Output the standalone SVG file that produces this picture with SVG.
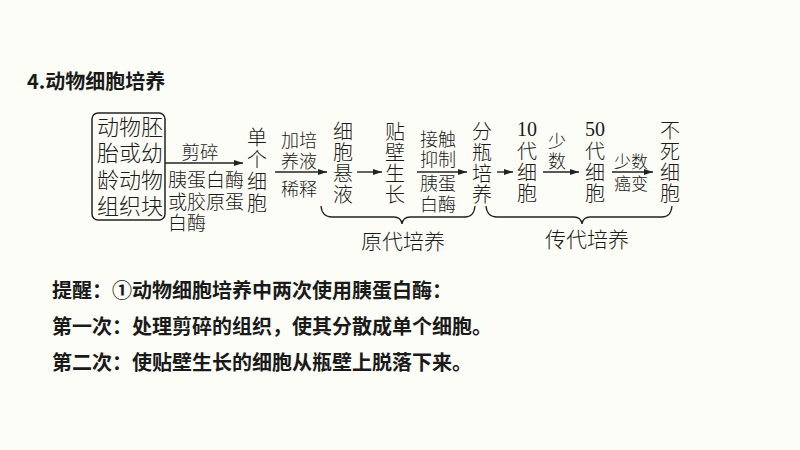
<svg xmlns="http://www.w3.org/2000/svg" width="800" height="450" viewBox="0 0 800 450">
<style>
  .bg { fill: #fdfdf7; }
  text { font-family: "Noto Sans CJK SC", "Noto Sans", sans-serif; fill: #1a1a1a; dominant-baseline: central; }
  .h { font-size: 20px; font-weight: bold; dominant-baseline: auto; }
  .v { font-size: 20px; font-weight: 300; writing-mode: vertical-rl; text-orientation: upright; }
  .bx { font-family: "Liberation Sans", "Noto Sans CJK SC", sans-serif; font-size: 22px; font-weight: 300; text-anchor: middle; }
  .l { font-family: "Liberation Sans", "Noto Sans CJK SC", sans-serif; font-size: 18px; font-weight: 300; text-anchor: middle; }
  .ls { font-family: "Liberation Sans", "Noto Sans CJK SC", sans-serif; font-size: 17px; font-weight: 300; text-anchor: middle; }
  .lb { font-family: "Liberation Sans", "Noto Sans CJK SC", sans-serif; font-size: 19px; font-weight: 300; }
  .num { font-family: "Liberation Serif", serif; font-size: 20px; text-anchor: middle; }
  .br { font-size: 21px; font-weight: 300; text-anchor: middle; }
  .note { font-size: 20px; font-weight: bold; }
  .arr { stroke: #222; stroke-width: 1.4; fill: none; marker-end: url(#ah); }
  .brace { stroke: #222; stroke-width: 1.3; fill: none; }
  .box { fill: none; stroke: #222; stroke-width: 1.5; }
</style>
<defs>
  <marker id="ah" markerUnits="userSpaceOnUse" markerWidth="10" markerHeight="6" refX="9" refY="3" orient="auto">
    <path d="M0,0 L9,3 L0,6 z" fill="#222"/>
  </marker>
</defs>
<rect class="bg" x="0" y="0" width="800" height="450"/>

<text id="title" class="h" x="27" y="89">4.动物细胞培养</text>

<g id="n-tissue">
  <rect class="box" x="92" y="113" width="73" height="107" rx="6"/>
  <text class="bx"><tspan x="130" y="127">动物胚</tspan><tspan x="130" y="153">胎或幼</tspan><tspan x="130" y="180">龄动物</tspan><tspan x="130" y="206">组织块</tspan></text>
</g>
<g id="n-single">
  <text class="v" x="257" y="127" letter-spacing="2">单个细胞</text>
</g>
<g id="n-suspension">
  <text class="v" x="343" y="121" letter-spacing="1.3">细胞悬液</text>
</g>
<g id="n-adherent">
  <text class="v" x="395" y="121" letter-spacing="1">贴壁生长</text>
</g>
<g id="n-split">
  <text class="v" x="482" y="121" letter-spacing="1.3">分瓶培养</text>
</g>
<g id="n-10">
  <text class="num" x="527" y="129">10</text>
  <text class="v" x="527" y="141" letter-spacing="1">代细胞</text>
</g>
<g id="n-50">
  <text class="num" x="595" y="129">50</text>
  <text class="v" x="595" y="141" letter-spacing="1">代细胞</text>
</g>
<g id="n-immortal">
  <text class="v" x="670" y="120" letter-spacing="1.3">不死细胞</text>
</g>

<g id="connectors">
  <line class="arr" x1="165" y1="163" x2="243" y2="163"/>
  <line class="arr" x1="275" y1="172" x2="327" y2="172"/>
  <line class="arr" x1="357" y1="172" x2="382" y2="172"/>
  <line class="arr" x1="417" y1="172" x2="467" y2="172"/>
  <line class="arr" x1="497" y1="172" x2="513" y2="172"/>
  <line class="arr" x1="543" y1="172" x2="579" y2="172"/>
  <line class="arr" x1="612" y1="172" x2="653" y2="172"/>

  <text class="l" x="200" y="152" style="font-size:18.5px">剪碎</text>
  <text class="lb"><tspan x="168" y="180">胰蛋白酶</tspan><tspan x="168" y="201.5">或胶原蛋</tspan><tspan x="168" y="223">白酶</tspan></text>

  <text class="l"><tspan x="299" y="141">加培</tspan><tspan x="299" y="161.5">养液</tspan><tspan x="299" y="190">稀释</tspan></text>
  <text class="l"><tspan x="438" y="139.5">接触</tspan><tspan x="438" y="160">抑制</tspan><tspan x="438" y="184">胰蛋</tspan><tspan x="438" y="205">白酶</tspan></text>
  <text class="l"><tspan x="557" y="141.5">少</tspan><tspan x="557" y="162">数</tspan></text>
  <text class="ls"><tspan x="631" y="162">少数</tspan><tspan x="631" y="184">癌变</tspan></text>

  <path class="brace" d="M321,206 Q322,217 332,217 L394,217 Q401,217 402,224 Q403,217 410,217 L465,217 Q474,217 475,206"/>
  <path class="brace" d="M486,206 Q487,217 497,217 L574,217 Q581,217 582,224 Q583,217 590,217 L662,217 Q671,217 672,206"/>
  <text class="br" x="403" y="240">原代培养</text>
  <text class="br" x="587" y="238">传代培养</text>
</g>

<text class="note" x="52" y="289">提醒：①动物细胞培养中两次使用胰蛋白酶：</text>
<text class="note" x="52" y="325">第一次：处理剪碎的组织，使其分散成单个细胞。</text>
<text class="note" x="52" y="361">第二次：使贴壁生长的细胞从瓶壁上脱落下来。</text>
</svg>
